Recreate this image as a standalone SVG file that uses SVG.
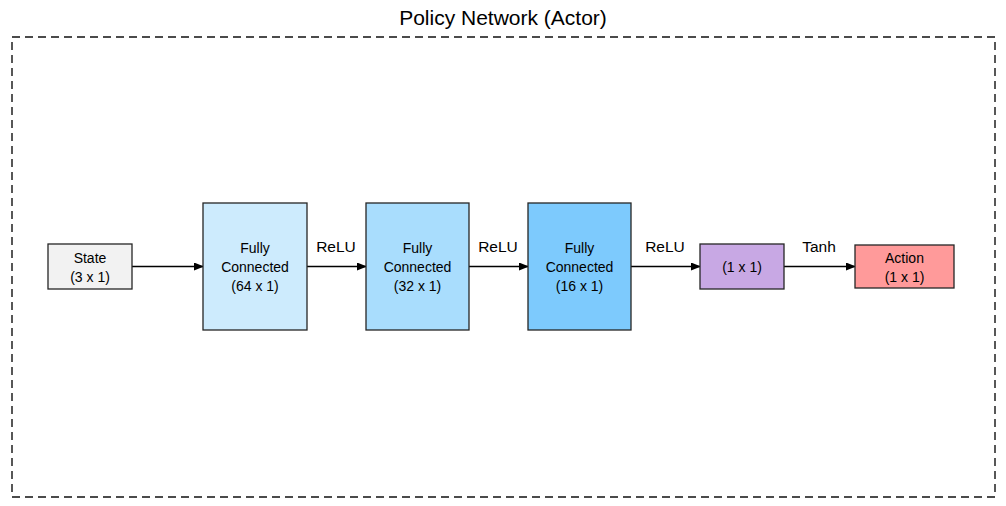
<svg xmlns="http://www.w3.org/2000/svg" width="1006" height="506" viewBox="0 0 1006 506">
<defs>
<marker id="ah" markerWidth="10" markerHeight="8" refX="9" refY="4" orient="auto" markerUnits="userSpaceOnUse">
<path d="M0,0 L10,4 L0,8 Z" fill="#000"/>
</marker>
<style>
text{font-family:"Liberation Sans","Open Sans",sans-serif;fill:#000;text-anchor:middle}
.n{font-size:14px}
.l{font-size:15.5px}
.t{font-size:21px}
.box{stroke:#262626;stroke-width:1.3}
.c{stroke:#000;stroke-width:1.6;fill:none;marker-end:url(#ah)}
</style>
</defs>
<rect width="1006" height="506" fill="#fff"/>
<text class="t" x="503" y="25">Policy Network (Actor)</text>
<rect x="12" y="37" width="983" height="460" fill="none" stroke="#111" stroke-width="1.4" stroke-dasharray="8,5"/>
<g id="connectors">
<line class="c" x1="132" y1="266.5" x2="203" y2="266.5"/>
<line class="c" x1="307" y1="266.5" x2="366" y2="266.5"/>
<line class="c" x1="469" y1="266.5" x2="528" y2="266.5"/>
<line class="c" x1="631" y1="266.5" x2="700" y2="266.5"/>
<line class="c" x1="784" y1="266.5" x2="855" y2="266.5"/>
<text class="l" x="336" y="252">ReLU</text>
<text class="l" x="498" y="252">ReLU</text>
<text class="l" x="665" y="252">ReLU</text>
<text class="l" x="819" y="252">Tanh</text>
</g>
<g id="state">
<rect class="box" x="48" y="244" width="84" height="45" fill="#F2F2F2"/>
<text class="n" x="90" y="263">State</text>
<text class="n" x="90" y="282">(3 x 1)</text>
</g>
<g id="fc1">
<rect class="box" x="203" y="203" width="104" height="127" fill="#CDEBFD"/>
<text class="n" x="255" y="253">Fully</text>
<text class="n" x="255" y="272">Connected</text>
<text class="n" x="255" y="291">(64 x 1)</text>
</g>
<g id="fc2">
<rect class="box" x="366" y="203" width="103" height="127" fill="#A9DDFD"/>
<text class="n" x="417.5" y="253">Fully</text>
<text class="n" x="417.5" y="272">Connected</text>
<text class="n" x="417.5" y="291">(32 x 1)</text>
</g>
<g id="fc3">
<rect class="box" x="528" y="203" width="103" height="127" fill="#7DCAFD"/>
<text class="n" x="579.5" y="253">Fully</text>
<text class="n" x="579.5" y="272">Connected</text>
<text class="n" x="579.5" y="291">(16 x 1)</text>
</g>
<g id="out">
<rect class="box" x="700" y="244" width="84" height="45" fill="#C8A8E4"/>
<text class="n" x="742" y="272">(1 x 1)</text>
</g>
<g id="action">
<rect class="box" x="855" y="245" width="99" height="43" fill="#FF9A9A"/>
<text class="n" x="904.5" y="263">Action</text>
<text class="n" x="904.5" y="282">(1 x 1)</text>
</g>
</svg>
